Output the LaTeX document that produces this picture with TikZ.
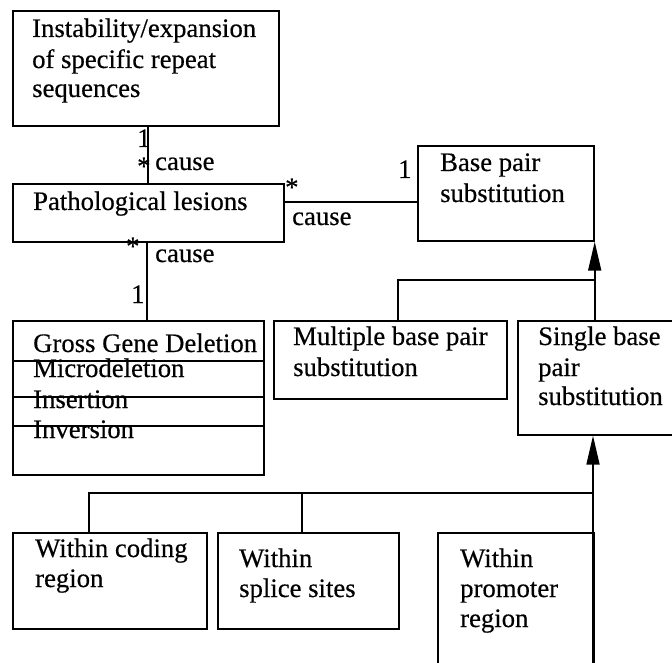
\documentclass[tikz,border=0pt]{standalone}
\usepackage{fontspec}
\setmainfont[FakeBold=0.4]{Liberation Serif}
\usetikzlibrary{arrows.meta}
\tikzset{
  box/.style={draw, line width=1.7pt, anchor=north west, inner sep=0pt},
  txt/.style={anchor=base west, inner sep=0pt, font=\fontsize{26.7}{30}\selectfont},
  link/.style={line width=1.7pt},
  gen/.style={line width=1.7pt, -{Triangle[length=29pt,width=13pt]}},
  bar/.style={line width=1.5pt}
}
\begin{document}
\begin{tikzpicture}[x=1pt,y=-1pt]
\useasboundingbox[fill=white] (0,0) rectangle (672,663);

% class boxes
\node[box, minimum width=266pt, minimum height=115pt] (inst) at (12,10) {};
\node[box, minimum width=271pt, minimum height=58pt] (lesion) at (12,183) {};
\node[box, minimum width=176pt, minimum height=95pt] (bps) at (417,145) {};
\node[box, minimum width=251pt, minimum height=154pt] (gross) at (12,320) {};
\node[box, minimum width=233pt, minimum height=78pt] (multi) at (273,320) {};
% the single substitution box runs past the right page edge
\node[box, minimum width=180pt, minimum height=114pt] (single) at (517,320) {};
\node[box, minimum width=194pt, minimum height=96pt] (coding) at (12,532) {};
\node[box, minimum width=181pt, minimum height=96pt] (splice) at (217,532) {};
% promoter box runs past the lower page edge
\node[box, minimum width=156pt, minimum height=160pt] (promo) at (437,532) {};

% compartment lines of the lesion list
\coordinate (g1) at (0,361);
\coordinate (g2) at (0,397);
\coordinate (g3) at (0,426);
\draw[bar] (gross.west |- g1) -- (gross.east |- g1);
\draw[bar] (gross.west |- g2) -- (gross.east |- g2);
\draw[bar] (gross.west |- g3) -- (gross.east |- g3);

% texts
\node[txt] (t1) at (32,37) {Instability/expansion};
\node[txt] (t2) at (32,68) {of specific repeat};
\node[txt] (t3) at (32,97) {sequences};
\node[txt] (t4) at (33,210) {Pathological lesions};
\node[txt] (t5) at (440,171) {Base pair};
\node[txt] (t6) at (440,202) {substitution};
\node[txt] (t7) at (33,352) {Gross Gene Deletion};
\node[txt] (t8) at (33,377) {Microdeletion};
\node[txt] (t9) at (33,408) {Insertion};
\node[txt] (t10) at (33,438) {Inversion};
\node[txt] (t11) at (293,345) {Multiple base pair};
\node[txt] (t12) at (293,376) {substitution};
\node[txt] (t13) at (538,345) {Single base};
\node[txt] (t14) at (538,376) {pair};
\node[txt] (t15) at (538,405) {substitution};
\node[txt] (t16) at (35,557) {Within coding};
\node[txt] (t17) at (35,587) {region};
\node[txt] (t18) at (239,567) {Within};
\node[txt] (t19) at (239,597) {splice sites};
\node[txt] (t20) at (460,567) {Within};
\node[txt] (t21) at (460,597) {promoter};
\node[txt] (t22) at (460,627) {region};

% associations
\coordinate (xa) at (148,0);
\coordinate (xb) at (147,0);
\coordinate (yc) at (0,202);
\draw[link] (inst.south -| xa) -- (lesion.north -| xa);
\draw[link] (lesion.east |- yc) -- (bps.west |- yc);
\draw[link] (lesion.south -| xb) -- (gross.north -| xb);

% multiplicities and roles
\node[txt] (m1) at (137,147) {1};
\node[txt] (m2) at (137,175) {*};
\node[txt] (r1) at (155,170) {cause};
\node[txt] (m3) at (285,196) {*};
\node[txt] (m4) at (398,178) {1};
\node[txt] (r2) at (292,225) {cause};
\node[txt] (m5) at (126,255) {*};
\node[txt] (r3) at (155,262) {cause};
\node[txt] (m6) at (131,303) {1};

% generalisation: substitution kinds
\coordinate (ju) at (0,280);
\coordinate (xm) at (398,0);
\draw[gen] (single.north -| bps.south east) -- (bps.south east);
\draw[bar] (multi.north -| xm) -- (ju -| xm) -- (ju -| bps.south east);

% generalisation: locations of the single substitution
\coordinate (jl) at (0,493);
\coordinate (xc) at (89,0);
\coordinate (xs) at (302,0);
\coordinate (foot) at (593,663);
\draw[gen] (foot) -- (single.south -| foot);
\draw[bar] (coding.north -| xc) -- (jl -| xc) -- (jl -| foot);
\draw[bar] (splice.north -| xs) -- (jl -| xs);
\end{tikzpicture}
\end{document}
